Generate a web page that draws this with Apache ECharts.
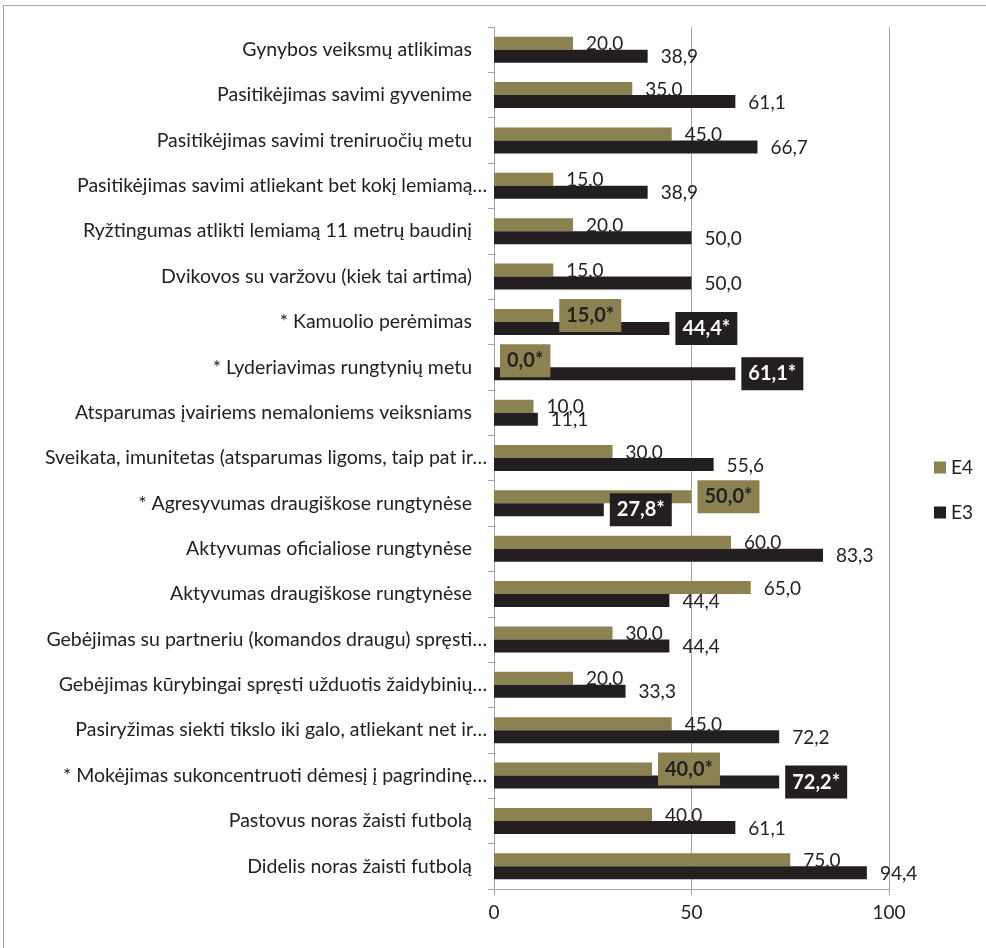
<!DOCTYPE html>
<html>
<head>
<meta charset="utf-8">
<script src="https://cdn.jsdelivr.net/npm/echarts@6/dist/echarts.min.js"></script>
<style>
  html, body { margin: 0; padding: 0; background: #fff; }
  #chart { position: absolute; left: 0; top: 0; width: 986px; height: 948px; }
  #frame { position: absolute; left: 3px; top: 5px; width: 1000px; height: 1000px;
           border-left: 1px solid #a6a6a6; border-top: 1px solid #a6a6a6; pointer-events: none; }
</style>
</head>
<body>
<div id="chart"></div>
<div id="frame"></div>
<script>
const categories = [
  "Gynybos veiksmų atlikimas",
  "Pasitikėjimas savimi gyvenime",
  "Pasitikėjimas savimi treniruočių metu",
  "Pasitikėjimas savimi atliekant bet kokį lemiamą…",
  "Ryžtingumas atlikti lemiamą 11 metrų baudinį",
  "Dvikovos su varžovu (kiek tai artima)",
  "* Kamuolio perėmimas",
  "* Lyderiavimas rungtynių metu",
  "Atsparumas įvairiems nemaloniems veiksniams",
  "Sveikata, imunitetas (atsparumas ligoms, taip pat ir…",
  "* Agresyvumas draugiškose rungtynėse",
  "Aktyvumas oficialiose rungtynėse",
  "Aktyvumas draugiškose rungtynėse",
  "Gebėjimas su partneriu (komandos draugu) spręsti…",
  "Gebėjimas kūrybingai spręsti užduotis žaidybinių…",
  "Pasiryžimas siekti tikslo iki galo, atliekant net ir…",
  "* Mokėjimas sukoncentruoti dėmesį į pagrindinę…",
  "Pastovus noras žaisti futbolą",
  "Didelis noras žaisti futbolą"
];
const e4Values = [20.0, 35.0, 45.0, 15.0, 20.0, 15.0, 15.0, 0.0, 10.0, 30.0, 50.0, 60.0, 65.0, 30.0, 20.0, 45.0, 40.0, 40.0, 75.0];
const e3Values = [38.9, 61.1, 66.7, 38.9, 50.0, 50.0, 44.4, 61.1, 11.1, 55.6, 27.8, 83.3, 44.4, 44.4, 33.3, 72.2, 72.2, 61.1, 94.4];
const starred  = [false, false, false, false, false, false, true, true, false, false, true, false, false, false, false, false, true, false, false];
const xTicks = [0, 50, 100];

const E4_COLOR = '#8c8150';
const E3_COLOR = '#231f20';
const FONT = 'Lato';

function fmt(v, star) { return v.toFixed(1).replace('.', ',') + (star ? '*' : ''); }

function buildData(values, color, textColor) {
  return values.map((v, i) => {
    if (!starred[i]) return { value: v };
    return {
      value: v,
      label: {
        distance: 6,
        offset: [0, 0],
        backgroundColor: color,
        padding: [7, 7, 6, 7],
        fontWeight: 'bold',
        fontSize: 20,
        lineHeight: 20,
        color: textColor
      }
    };
  });
}

function labelCfg(offsetY) {
  return {
    show: true,
    position: 'right',
    distance: 13,
    offset: [0, offsetY],
    fontFamily: FONT,
    fontSize: 19,
    color: '#222',
    formatter: p => fmt(p.value, starred[p.dataIndex])
  };
}

const chart = echarts.init(document.getElementById('chart'), null, { renderer: 'canvas' });
chart.setOption({
  animation: false,
  backgroundColor: '#fff',
  textStyle: { fontFamily: FONT },
  grid: { left: 494, right: 97, top: 27, bottom: 59, containLabel: false },
  legend: {
    orient: 'vertical',
    left: 929,
    top: 453,
    itemWidth: 12,
    itemHeight: 12,
    itemGap: 26,
    icon: 'rect',
    data: ['E4', 'E3'],
    textStyle: { fontFamily: FONT, fontSize: 19, color: '#222', lineHeight: 12, padding: [0, 0, 0, 0] }
  },
  xAxis: {
    type: 'value',
    min: xTicks[0],
    max: xTicks[xTicks.length - 1],
    interval: xTicks[1] - xTicks[0],
    axisLine: { show: true, lineStyle: { color: '#a6a6a6', width: 1 } },
    axisTick: { show: true, length: 6, lineStyle: { color: '#a6a6a6' } },
    splitLine: { show: true, lineStyle: { color: '#a6a6a6', width: 1 } },
    axisLabel: { fontFamily: FONT, fontSize: 19, color: '#222', margin: 14 }
  },
  yAxis: {
    type: 'category',
    inverse: true,
    data: categories,
    axisLine: { show: true, lineStyle: { color: '#a6a6a6', width: 1 } },
    axisTick: { show: true, length: 6, lineStyle: { color: '#a6a6a6' } },
    axisLabel: {
      interval: 0,
      fontFamily: FONT,
      fontSize: 19.5,
      color: '#222',
      margin: 7,
      formatter: v => v.endsWith('…') ? '{t|' + v + '}' : '{n|' + v + '}',
      rich: {
        n: { fontFamily: FONT, fontSize: 19.5, color: '#222', padding: [0, 15, 0, 0] },
        t: { fontFamily: FONT, fontSize: 19.5, color: '#222' }
      }
    }
  },
  series: [
    {
      name: 'E4',
      type: 'bar',
      barWidth: 13,
      barGap: '0%',
      itemStyle: { color: E4_COLOR },
      label: labelCfg(1),
      data: buildData(e4Values, E4_COLOR, '#222')
    },
    {
      name: 'E3',
      type: 'bar',
      barWidth: 13,
      barGap: '0%',
      itemStyle: { color: E3_COLOR },
      label: labelCfg(1),
      data: buildData(e3Values, E3_COLOR, '#fff')
    }
  ]
});
</script>
</body>
</html>
